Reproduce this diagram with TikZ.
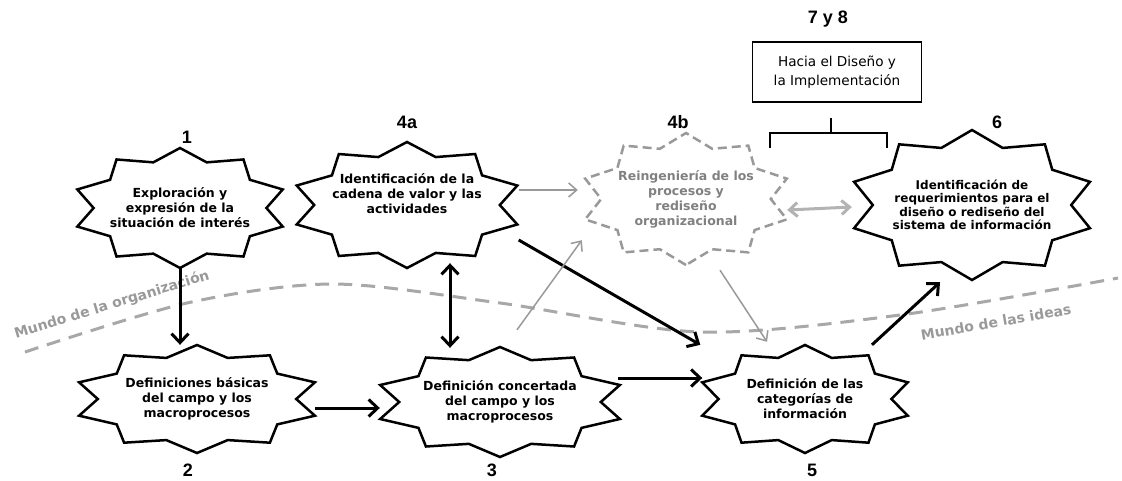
\documentclass[tikz,border=0pt]{standalone}
\usepackage{fontspec}
\setsansfont{DejaVu Sans}
\newfontfamily\numfont{Liberation Sans}
\usetikzlibrary{arrows.meta}
\usetikzlibrary{calc}

\definecolor{ghost}{HTML}{999999}
\definecolor{ghosttext}{HTML}{808080}
\definecolor{worldgray}{HTML}{A8A8A8}
\definecolor{pale}{HTML}{B3B3B3}

\tikzset{
  phase/.style={align=center, inner sep=0pt, font=\sffamily\bfseries\fontsize{12.5}{15}\selectfont},
  starline/.style={line width=2.5pt, line join=miter},
  ghostline/.style={line width=2.5pt, ghost, dash pattern=on 9pt off 5pt},
  flow/.style={line width=3pt, ->, >={Straight Barb[length=9pt,width=17pt]}},
  hint/.style={line width=1.5pt, ghost, ->, >={Straight Barb[length=8pt,width=14pt]}},
  num/.style={font=\numfont\bfseries\fontsize{18}{18}\selectfont},
  world/.style={font=\sffamily\bfseries\fontsize{14}{14}\selectfont, text=ghost},
}

\begin{document}
\begin{tikzpicture}[x=1pt, y=-1pt]
  \useasboundingbox (0,0) rectangle (1122,480);

  % frontera entre los dos mundos
  \draw[line width=3pt, worldgray, dash pattern=on 14pt off 9pt]
    plot[smooth] coordinates {(25,352) (187,303) (333,284) (500,303) (700,332) (900,315) (1118,278)};
  \node[world, rotate=17] (org) at (112,305) {Mundo de la organización};
  \node[world, rotate=10] (ideas) at (996,322) {Mundo de las ideas};

  % fases
  \node[phase, minimum width=205pt, minimum height=120pt] (s1) at (180,208) {Exploración y\\expresión de la\\situación de interés};
  \node[phase, minimum width=236pt, minimum height=108pt] (s2) at (197,399) {Definiciones básicas\\del campo y los\\macroprocesos};
  \node[phase, minimum width=240pt, minimum height=110pt] (s3) at (500,402) {Definición concertada\\del campo y los\\macroprocesos};
  \node[phase, minimum width=221pt, minimum height=126pt] (s4a) at (407,205) {Identificación de la\\cadena de valor y las\\actividades\\[9pt]\mbox{}};
  \node[phase, minimum width=202pt, minimum height=132pt, text=ghosttext] (s4b) at (686,199) {Reingeniería de los\\procesos y\\rediseño\\organizacional};
  \node[phase, minimum width=205pt, minimum height=108pt] (s5) at (805,399) {Definición de las\\categorías de\\información};
  \node[phase, minimum width=236pt, minimum height=150pt, font=\sffamily\bfseries\fontsize{12}{13.5}\selectfont] (s6) at (972,205) {Identificación de\\requerimientos para el\\diseño o rediseño del\\sistema de información};

  \foreach \n/\a/\b/\look in {s1/108/60/starline, s2/124/54/starline, s3/126/55/starline, s4a/116/63/starline, s5/108/54/starline, s6/124/75/starline, s4b/106/66/ghostline}
    \draw[\look, shift={(\n.center)}] (90:{\a} and {\b})
      \foreach \k in {1,...,19} { -- ({90+18*\k}:{\a*(1-0.2*mod(\k,2))} and {\b*(1-0.2*mod(\k,2))}) } -- cycle;

  \node[draw, line width=1.8pt, minimum width=169pt, minimum height=60pt, align=center, font=\sffamily\fontsize{13.6}{19}\selectfont] (impl) at (837,72) {Hacia el Diseño y\\la Implementación};

  % numeros
  \node[num] (n1) at (187,137) {1};
  \node[num] (n2) at (188,470) {2};
  \node[num] (n3) at (492,470) {3};
  \node[num] (n4a) at (407,122) {4a};
  \node[num] (n4b) at (678,122) {4b};
  \node[num] (n5) at (812,470) {5};
  \node[num] (n6) at (997,122) {6};
  \node[num] (n78) at (828,19) {7 y 8};

  \coordinate (brace) at (831,133);
  \draw[line width=2.5pt] ($(brace)+(-61,15)$) -- ($(brace)+(-61,0)$) -- ($(brace)+(56,0)$) -- ($(brace)+(56,15)$);
  \draw[line width=2.5pt] (brace) -- ($(brace |- impl.south)+(0,15)$);

  % flechas
  \draw[flow] (s1.south) -- (s1.south |- s2.north);
  \draw[flow] ($(s2.east)+(0,9)$) -- ($(s3.west)+(0,6)$);
  \draw[flow, <->] ($(s4a.south)+(43,-5)$) -- ($(s3.north)+(-50,1)$);
  \draw[flow] ($(s3.east)+(-2,-24)$) -- ($(s5.west)+(0,-21)$);
  \draw[flow] ($(s4a.east)+(1,35)$) -- ($(s5.north west)+(-2,0)$);
  \draw[flow] ($(s5.north)+(67,0)$) -- ($(s6.south)+(-32,2)$);
  \draw[hint] ($(s4a.east)+(1,-15)$) -- ($(s4b.west)+(-7,-9)$);
  \draw[hint] ($(s3.north)+(17,-17)$) -- ($(s4b.south west)+(-3,-25)$);
  \draw[hint] ($(s4b.south)+(34,5)$) -- ($(s5.north)+(-38,-3)$);
  \draw[hint, pale, line width=3pt, <->] ($(s4b.east)+(0,11)$) -- ($(s6.west)+(-2,2)$);
\end{tikzpicture}
\end{document}
